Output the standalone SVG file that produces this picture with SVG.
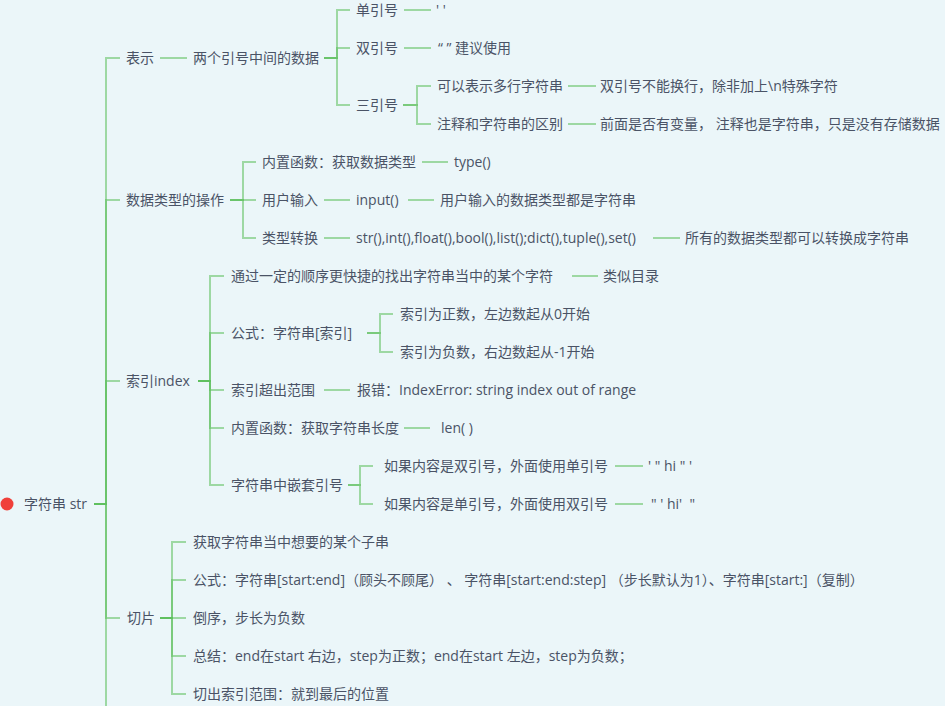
<svg xmlns="http://www.w3.org/2000/svg" width="945" height="706" viewBox="0 0 945 706">
<style>
text{font-family:"Open Sans","Noto Sans CJK SC",sans-serif;font-size:14px;fill:#4a5366;white-space:pre}
.c path{fill:none;stroke:#5cbf5c;stroke-opacity:0.55;stroke-width:2}
</style>
<rect width="945" height="706" fill="#ebf6f9"/>
<g class="c" id="connectors">
<path d="M94 504H106V58H120"/>
<path d="M94 504H106V200H120"/>
<path d="M94 504H106V381H120"/>
<path d="M94 504H106V618H120"/>
<path d="M94 504H106V720H120"/>
<path d="M160 58H187"/>
<path d="M324 58H337V10H350"/>
<path d="M324 58H337V48H350"/>
<path d="M324 58H337V105H350"/>
<path d="M404 10H431"/>
<path d="M404 48H431"/>
<path d="M403 105H417V86H431"/>
<path d="M403 105H417V124H431"/>
<path d="M568 86H596"/>
<path d="M568 124H596"/>
<path d="M230 200H243V162H256"/>
<path d="M230 200H243V200H256"/>
<path d="M230 200H243V238H256"/>
<path d="M422 162H448"/>
<path d="M324 200H350"/>
<path d="M408 200H434"/>
<path d="M324 238H350"/>
<path d="M653 238H680"/>
<path d="M198 381H210V276H224"/>
<path d="M198 381H210V333H224"/>
<path d="M198 381H210V390H224"/>
<path d="M198 381H210V428H224"/>
<path d="M198 381H210V485H224"/>
<path d="M572 276H598"/>
<path d="M367 333H380V314H393"/>
<path d="M367 333H380V352H393"/>
<path d="M324 390H350"/>
<path d="M404 428H430"/>
<path d="M348 485H360V466H373"/>
<path d="M348 485H360V504H373"/>
<path d="M615 466H643"/>
<path d="M615 504H643"/>
<path d="M160 618H172V542H186"/>
<path d="M160 618H172V580H186"/>
<path d="M160 618H172V618H186"/>
<path d="M160 618H172V656H186"/>
<path d="M160 618H172V694H186"/>
</g>
<g id="root"><circle cx="7" cy="504" r="6.5" fill="#f0403a"/><text x="24" y="509">字符串 str</text></g>
<g id="n-biaoshi"><text x="126" y="63">表示</text></g>
<g id="n-liangge"><text x="193" y="63">两个引号中间的数据</text></g>
<g id="n-dan"><text x="356" y="15">单引号</text></g>
<g id="n-dan-v"><text x="436" y="15">' '</text></g>
<g id="n-shuang"><text x="356" y="53">双引号</text></g>
<g id="n-shuang-v"><text x="438" y="53">“ ” 建议使用</text></g>
<g id="n-san"><text x="356" y="110">三引号</text></g>
<g id="n-san1"><text x="437" y="91">可以表示多行字符串</text></g>
<g id="n-san1v"><text x="600" y="91">双引号不能换行，除非加上\n特殊字符</text></g>
<g id="n-san2"><text x="437" y="129">注释和字符串的区别</text></g>
<g id="n-san2v"><text x="600" y="129">前面是否有变量， 注释也是字符串，只是没有存储数据</text></g>
<g id="n-shuju"><text x="126" y="205">数据类型的操作</text></g>
<g id="n-neizhi1"><text x="262" y="167">内置函数：获取数据类型</text></g>
<g id="n-type"><text x="454" y="167">type()</text></g>
<g id="n-shuru"><text x="262" y="205">用户输入</text></g>
<g id="n-input"><text x="356" y="205">input()</text></g>
<g id="n-input-v"><text x="440" y="205">用户输入的数据类型都是字符串</text></g>
<g id="n-zhuanhuan"><text x="262" y="243">类型转换</text></g>
<g id="n-funcs"><text x="356" y="243">str(),int(),float(),bool(),list();dict(),tuple(),set()</text></g>
<g id="n-funcs-v"><text x="685" y="243">所有的数据类型都可以转换成字符串</text></g>
<g id="n-suoyin"><text x="126" y="386">索引index</text></g>
<g id="n-tongguo"><text x="231" y="281">通过一定的顺序更快捷的找出字符串当中的某个字符</text></g>
<g id="n-mulu"><text x="603" y="281">类似目录</text></g>
<g id="n-gongshi1"><text x="231" y="338">公式：字符串[索引]</text></g>
<g id="n-zheng"><text x="400" y="319">索引为正数，左边数起从0开始</text></g>
<g id="n-fu"><text x="400" y="357">索引为负数，右边数起从-1开始</text></g>
<g id="n-chaochu"><text x="231" y="395">索引超出范围</text></g>
<g id="n-baocuo"><text x="357" y="395">报错：IndexError: string index out of range</text></g>
<g id="n-neizhi2"><text x="231" y="433">内置函数：获取字符串长度</text></g>
<g id="n-len"><text x="441" y="433">len( )</text></g>
<g id="n-qiantao"><text x="231" y="490">字符串中嵌套引号</text></g>
<g id="n-qt1"><text x="384" y="471">如果内容是双引号，外面使用单引号</text></g>
<g id="n-qt1v"><text x="648" y="471">' " hi " '</text></g>
<g id="n-qt2"><text x="384" y="509">如果内容是单引号，外面使用双引号</text></g>
<g id="n-qt2v"><text x="651" y="509">" ' hi'  "</text></g>
<g id="n-qiepian"><text x="127" y="623">切片</text></g>
<g id="n-qp1"><text x="193" y="547">获取字符串当中想要的某个子串</text></g>
<g id="n-qp2"><text x="193" y="585">公式：字符串[start:end]（顾头不顾尾） 、 字符串[start:end:step] （步长默认为1）、字符串[start:]（复制）</text></g>
<g id="n-qp3"><text x="193" y="623">倒序，步长为负数</text></g>
<g id="n-qp4"><text x="193" y="661">总结：end在start 右边，step为正数；end在start 左边，step为负数；</text></g>
<g id="n-qp5"><text x="193" y="699">切出索引范围：就到最后的位置</text></g>
</svg>
